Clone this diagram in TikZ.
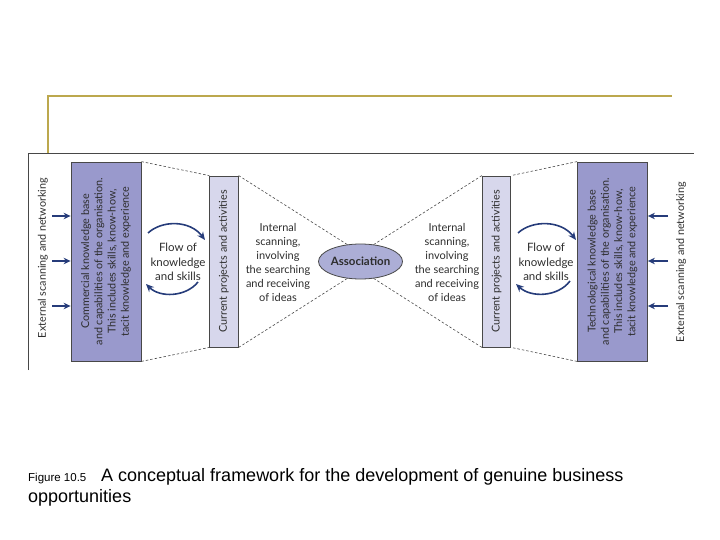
\documentclass[tikz,border=0pt]{standalone}
\usepackage{fontspec}
\setmainfont{Lato}
\newfontfamily\capfont{Liberation Sans}
\usetikzlibrary{arrows.meta,shapes.geometric}
\definecolor{goldline}{RGB}{188,168,78}
\definecolor{framegray}{RGB}{72,72,72}
\definecolor{darkbox}{RGB}{153,153,204}
\definecolor{lightbox}{RGB}{215,215,236}
\definecolor{ellfill}{RGB}{172,174,214}
\definecolor{arrowblue}{RGB}{38,60,122}
\definecolor{txtgray}{RGB}{45,45,45}
\begin{document}
\begin{tikzpicture}[x=1pt,y=-1pt,
  bigbox/.style={draw=framegray,line width=0.8pt,fill=darkbox,minimum width=70pt,minimum height=199pt,inner sep=0pt},
  thinbox/.style={draw=framegray,line width=0.8pt,fill=lightbox,minimum width=28.5pt,minimum height=171pt,inner sep=0pt},
  boxtext/.style={rotate=90,align=center,font=\fontsize{10.8}{13.3}\selectfont,text=txtgray,inner sep=0pt},
  sidetext/.style={rotate=90,font=\fontsize{10.8}{12}\selectfont,text=txtgray,inner sep=0pt},
  midtext/.style={align=center,font=\fontsize{11}{14}\selectfont,text=txtgray,inner sep=0pt},
  flowtext/.style={align=center,font=\fontsize{11.5}{14.5}\selectfont,text=txtgray,inner sep=0pt},
  dashline/.style={draw=framegray,line width=0.6pt,dash pattern=on 2.5pt off 2pt},
  inarrow/.style={draw=arrowblue,line width=1.6pt,-{Stealth[length=7pt,width=6.5pt]}},
  arcarrow/.style={draw=arrowblue,line width=1.6pt,-{Stealth[length=8pt,width=7pt]}}
]
\useasboundingbox (0,0) rectangle (720,540);
% frames
\draw[goldline,line width=2pt] (48,153) -- (48,96) -- (672,96);
\draw[framegray,line width=0.9pt] (28,370) -- (28,153) -- (694,153);
% boxes
\node[bigbox] (ld) at (106,261.5) {};
\node[thinbox] (ll) at (224,261.5) {};
\node[thinbox] (rl) at (496.5,261.5) {};
\node[bigbox] (rd) at (612.5,261.5) {};
\node[ellipse,draw=framegray,line width=0.8pt,fill=ellfill,minimum width=75pt,minimum height=35pt,inner sep=0pt,font=\bfseries\fontsize{11.5}{13}\selectfont,text=txtgray] (as) at (360.5,261.5) {Association};
% box texts
\node[boxtext] (ldt) at (ld.center) {Commercial knowledge base\\and capabilities of the organisation.\\This includes skills, know-how,\\tacit knowledge and experience};
\node[boxtext] (rdt) at (rd.center) {Technological knowledge base\\and capabilities of the organisation.\\This includes skills, know-how,\\tacit knowledge and experience};
\node[boxtext] (llt) at (ll.center) {Current projects and activities};
\node[boxtext] (rlt) at (rl.center) {Current projects and activities};
\node[sidetext] (lext) at (43,258) {External scanning and networking};
\node[sidetext] (rext) at (681,262) {External scanning and networking};
\node[flowtext] (lflow) at (178,262) {Flow of\\knowledge\\and skills};
\node[flowtext] (rflow) at (546,262) {Flow of\\knowledge\\and skills};
\node[midtext] (lint) at (278,262) {Internal\\scanning,\\involving\\the searching\\and receiving\\of ideas};
\node[midtext] (rint) at (447,262) {Internal\\scanning,\\involving\\the searching\\and receiving\\of ideas};
% dashed
\draw[dashline] (ld.north east) -- (ll.north west);
\draw[dashline] (ld.south east) -- (ll.south west);
\draw[dashline] (ll.north east) -- (as.128);
\draw[dashline] (ll.south east) -- (as.232);
\draw[dashline] (rd.north west) -- (rl.north east);
\draw[dashline] (rd.south west) -- (rl.south east);
\draw[dashline] (rl.north west) -- (as.52);
\draw[dashline] (rl.south west) -- (as.308);
% incoming arrows
\coordinate (la1) at (52,216);
\coordinate (la2) at (52,261);
\coordinate (la3) at (52,306);
\coordinate (ra1) at (668,216);
\coordinate (ra2) at (668,261);
\coordinate (ra3) at (668,306);
\draw[inarrow] (la1) -- (la1 -| ld.west);
\draw[inarrow] (la2) -- (la2 -| ld.west);
\draw[inarrow] (la3) -- (la3 -| ld.west);
\draw[inarrow] (ra1) -- (ra1 -| rd.east);
\draw[inarrow] (ra2) -- (ra2 -| rd.east);
\draw[inarrow] (ra3) -- (ra3 -| rd.east);
% arcs
\coordinate (lt1) at (148,233);
\coordinate (lt2) at (205,240);
\coordinate (lb1) at (198,282);
\coordinate (lb2) at (146,284);
\coordinate (rt1) at (518,233);
\coordinate (rt2) at (576,240);
\coordinate (rb1) at (570,281);
\coordinate (rb2) at (516,284);
\draw[arcarrow] (lt1) .. controls (162,220) and (190,220) .. (lt2);
\draw[arcarrow] (lb1) .. controls (186,297) and (160,298) .. (lb2);
\draw[arcarrow] (rt1) .. controls (532,220) and (561,220) .. (rt2);
\draw[arcarrow] (rb1) .. controls (558,297) and (531,298) .. (rb2);
% caption
\node[anchor=base west,inner sep=0pt,font=\capfont\fontsize{11.5}{13}\selectfont] (fig) at (28,481) {Figure 10.5};
\node[anchor=base west,inner sep=0pt,font=\capfont\fontsize{18}{21}\selectfont] (cap1) at (101,481) {A conceptual framework for the development of genuine business};
\node[anchor=base west,inner sep=0pt,font=\capfont\fontsize{18}{21}\selectfont] (cap2) at (28,502.5) {opportunities};
\end{tikzpicture}
\end{document}
